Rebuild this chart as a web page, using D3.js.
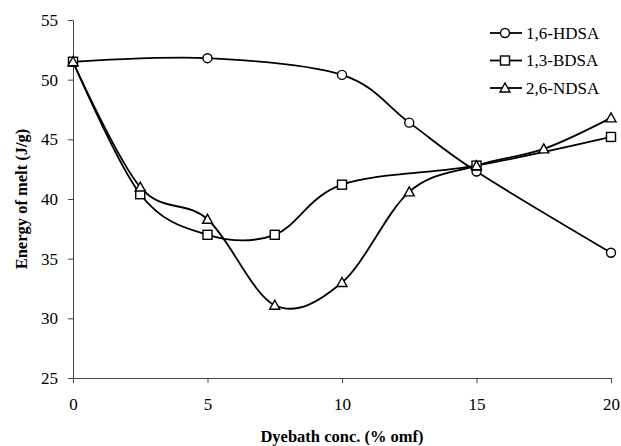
<!DOCTYPE html>
<html>
<head>
<meta charset="utf-8">
<script src="https://cdn.jsdelivr.net/npm/d3@7"></script>
<style>
  body { margin: 0; background: #fff; }
  svg text { font-family: "Liberation Serif", "Times New Roman", serif; fill: #000; }
  .axis path, .axis line { stroke: #444; }
  .axis-label { font-weight: bold; font-size: 16.5px; }
</style>
</head>
<body>
<div id="chart"></div>
<script>
// values
const hdsaX = [0, 5, 10, 12.5, 15, 20];
const hdsaY = [51.5, 51.8, 50.4, 46.4, 42.3, 35.5];
const bdsaX = [0, 2.5, 5, 7.5, 10, 15, 20];
const bdsaY = [51.5, 40.4, 37.0, 37.0, 41.2, 42.8, 45.2];
const ndsaX = [0, 2.5, 5, 7.5, 10, 12.5, 15, 17.5, 20];
const ndsaY = [51.5, 41.0, 38.3, 31.1, 33.0, 40.6, 42.8, 44.2, 46.8];
const seriesNames = ["1,6-HDSA", "1,3-BDSA", "2,6-NDSA"];
const xTicks = [0, 5, 10, 15, 20];
const yTicks = [25, 30, 35, 40, 45, 50, 55];

const width = 621, height = 446;
const margin = { LEFT: 73, RIGHT: 10, TOP: 20, BOTTOM: 68 };
const plotW = width - margin.LEFT - margin.RIGHT;
const plotH = height - margin.TOP - margin.BOTTOM;

const svg = d3.select("#chart").append("svg")
    .attr("width", width)
    .attr("height", height);

const g = svg.append("g")
    .attr("transform", `translate(${margin.LEFT}, ${margin.TOP})`);

const x = d3.scaleLinear().domain([0, 20]).range([0, plotW]);
const y = d3.scaleLinear().domain([25, 55]).range([plotH, 0]);

// axes
g.append("g")
    .attr("class", "y axis")
    .call(d3.axisLeft(y).tickValues(yTicks).tickSize(5).tickSizeOuter(0).tickPadding(10))
    .selectAll("text")
    .attr("font-size", "17px");

g.append("g")
    .attr("class", "x axis")
    .attr("transform", `translate(0, ${plotH})`)
    .call(d3.axisBottom(x).tickValues(xTicks).tickSize(5).tickSizeOuter(0).tickPadding(15))
    .selectAll("text")
    .attr("font-size", "17px");

svg.selectAll(".axis text").attr("font-family", "Liberation Serif, serif");

// axis labels
svg.append("text")
    .attr("class", "axis-label")
    .attr("x", margin.LEFT + plotW / 2)
    .attr("y", 442)
    .attr("text-anchor", "middle")
    .text("Dyebath conc. (% omf)");

svg.append("text")
    .attr("class", "axis-label")
    .attr("transform", `translate(27, ${margin.TOP + plotH / 2}) rotate(-90)`)
    .attr("text-anchor", "middle")
    .text("Energy of melt (J/g)");

const series = [
    { name: seriesNames[0], xs: hdsaX, ys: hdsaY, shape: "circle" },
    { name: seriesNames[1], xs: bdsaX, ys: bdsaY, shape: "square" },
    { name: seriesNames[2], xs: ndsaX, ys: ndsaY, shape: "triangle" }
];

const line = d3.line()
    .x(d => x(d[0]))
    .y(d => y(d[1]))
    .curve(d3.curveCardinal.tension(0));

series.forEach(s => {
    const pts = s.xs.map((v, i) => [v, s.ys[i]]);
    g.append("path")
        .datum(pts)
        .attr("d", line)
        .attr("fill", "none")
        .attr("stroke", "#000")
        .attr("stroke-width", 1.8);
});

function drawMarker(sel, shape) {
    if (shape === "circle") {
        sel.append("circle").attr("r", 4.5);
    } else if (shape === "square") {
        sel.append("rect").attr("x", -4.5).attr("y", -4.5).attr("width", 9).attr("height", 9);
    } else {
        sel.append("path").attr("d", "M0,-5L5,4L-5,4Z");
    }
    sel.selectAll("*")
        .attr("fill", "#fff")
        .attr("stroke", "#000")
        .attr("stroke-width", 1.4);
}

series.forEach(s => {
    s.xs.forEach((v, i) => {
        const m = g.append("g")
            .attr("transform", `translate(${x(v)}, ${y(s.ys[i])})`);
        drawMarker(m, s.shape);
    });
});

// legend
const legend = svg.append("g");
series.forEach((s, i) => {
    const row = legend.append("g")
        .attr("transform", `translate(490, ${33 + i * 27.5})`);
    row.append("line")
        .attr("x1", 0).attr("x2", 32)
        .attr("stroke", "#000")
        .attr("stroke-width", 1.8);
    const m = row.append("g").attr("transform", "translate(15, 0)");
    drawMarker(m, s.shape);
    row.append("text")
        .attr("x", 36)
        .attr("dy", "0.35em")
        .attr("font-size", "17px")
        .text(s.name);
});
</script>
</body>
</html>
